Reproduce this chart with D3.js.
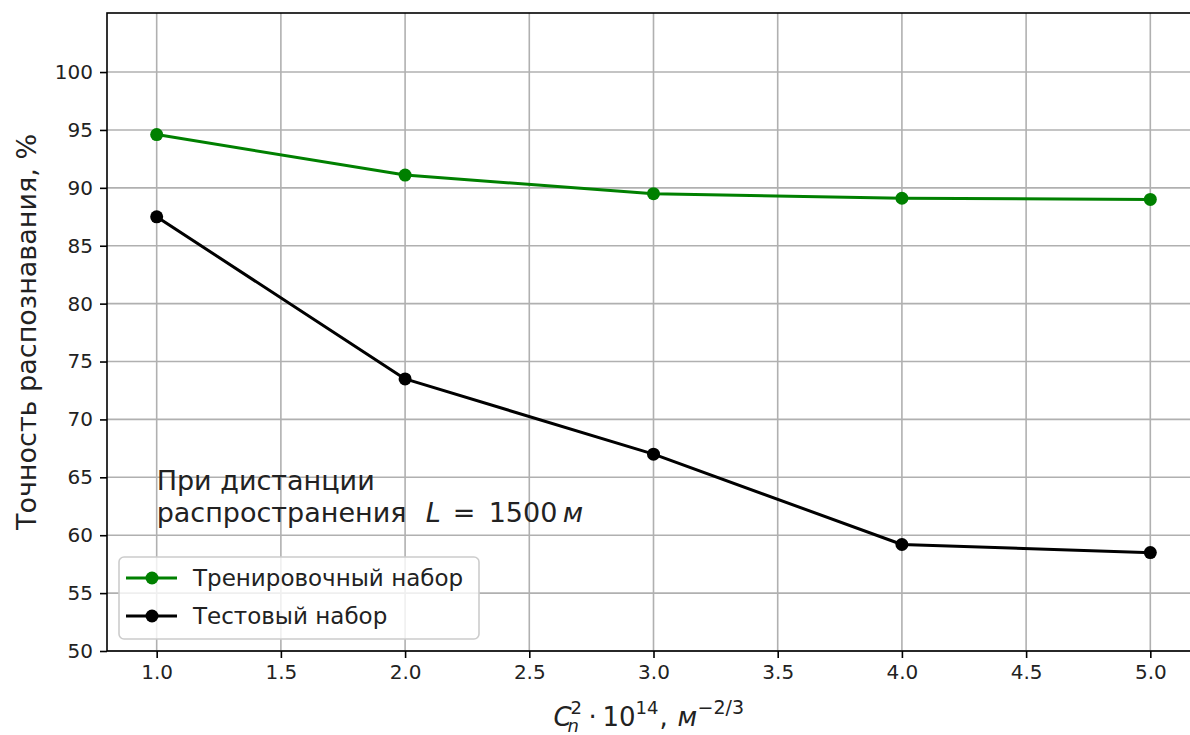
<!DOCTYPE html>
<html>
<head>
<meta charset="utf-8">
<script src="https://cdn.jsdelivr.net/npm/d3@7"></script>
<style>
  html, body { margin: 0; padding: 0; background: #fff; }
  svg { display: block; font-family: "DejaVu Sans", sans-serif; }
</style>
</head>
<body>
<svg id="chart" width="1190" height="735"></svg>
<script>
// ---- data ----
const xValues = [1.0, 2.0, 3.0, 4.0, 5.0];
const trainValues = [94.6, 91.1, 89.5, 89.1, 89.0];
const testValues = [87.5, 73.5, 67.0, 59.2, 58.5];
const xTickValues = [1.0, 1.5, 2.0, 2.5, 3.0, 3.5, 4.0, 4.5, 5.0];
const yTickValues = [50, 55, 60, 65, 70, 75, 80, 85, 90, 95, 100];
const seriesNames = ["Тренировочный набор", "Тестовый набор"];
const yLabel = "Точность распознавания, %";
const noteLine1 = "При дистанции";
const noteLine2 = "распространения";

(function () {
const svg = d3.select("#chart");
const pLeft = 107, pTop = 13, pRight = 1200, pBottom = 651;

const x = d3.scaleLinear().domain([0.8, 5.2]).range([pLeft, pRight]);
const y = d3.scaleLinear().domain([50, 105.1]).range([pBottom, pTop]);

const textColor = "#222";

// grid
const grid = svg.append("g");
grid.selectAll(".vg").data(xTickValues).join("line")
  .attr("x1", d => x(d)).attr("x2", d => x(d))
  .attr("y1", pTop).attr("y2", pBottom)
  .attr("stroke", "#b0b0b0").attr("stroke-width", 1.6);
grid.selectAll(".hg").data(yTickValues).join("line")
  .attr("x1", pLeft).attr("x2", pRight)
  .attr("y1", d => y(d)).attr("y2", d => y(d))
  .attr("stroke", "#b0b0b0").attr("stroke-width", 1.6);

// axes
const xAxis = d3.axisBottom(x).tickValues(xTickValues).tickFormat(d3.format(".1f"))
  .tickSize(7).tickPadding(7);
const yAxis = d3.axisLeft(y).tickValues(yTickValues).tickFormat(d3.format("d"))
  .tickSize(7).tickPadding(7);

const gx = svg.append("g").attr("transform", `translate(0,${pBottom})`).call(xAxis);
const gy = svg.append("g").attr("transform", `translate(${pLeft},0)`).call(yAxis);
[gx, gy].forEach(g => {
  g.select(".domain").remove();
  g.selectAll(".tick line").attr("stroke", "#000").attr("stroke-width", 1.6);
  g.selectAll(".tick text").attr("fill", textColor)
    .style("font-family", "DejaVu Sans").style("font-size", "20px");
});

// lines & markers
const line = d3.line().x((d, i) => x(xValues[i])).y(d => y(d));
const series = [
  { name: seriesNames[0], values: trainValues, color: "#008000" },
  { name: seriesNames[1], values: testValues, color: "#000000" }
];
series.forEach(s => {
  svg.append("path").datum(s.values)
    .attr("d", line).attr("fill", "none")
    .attr("stroke", s.color).attr("stroke-width", 3)
    .attr("stroke-linejoin", "round").attr("stroke-linecap", "square");
  svg.selectAll(null).data(s.values).join("circle")
    .attr("cx", (d, i) => x(xValues[i])).attr("cy", d => y(d))
    .attr("r", 6.5).attr("fill", s.color);
});

// spines
svg.append("rect").attr("x", pLeft).attr("y", pTop)
  .attr("width", pRight - pLeft).attr("height", pBottom - pTop)
  .attr("fill", "none").attr("stroke", "#000").attr("stroke-width", 1.6);

// annotation
const nx = x(1.0), ny = y(61.1);
const note = svg.append("text").attr("fill", textColor)
  .style("font-size", "27px");
note.append("tspan").attr("x", nx).attr("y", ny - 32).text(noteLine1);
note.append("tspan").attr("x", nx).attr("y", ny).text(noteLine2);
note.append("tspan").attr("x", nx + 269).attr("y", ny).attr("font-style", "italic").text("L");
note.append("tspan").attr("x", nx + 296).attr("y", ny).text("=");
note.append("tspan").attr("x", nx + 332).attr("y", ny).text("1500");
note.append("tspan").attr("x", nx + 406).attr("y", ny).attr("font-style", "italic").text("м");

// legend
const lg = svg.append("g");
lg.append("rect").attr("x", 119).attr("y", 557).attr("width", 360).attr("height", 82)
  .attr("rx", 5).attr("fill", "#fff").attr("fill-opacity", 0.8)
  .attr("stroke", "#cccccc").attr("stroke-width", 1.6);
series.forEach((s, i) => {
  const cy = 578 + i * 38;
  lg.append("line").attr("x1", 126).attr("x2", 177).attr("y1", cy).attr("y2", cy)
    .attr("stroke", s.color).attr("stroke-width", 3);
  lg.append("circle").attr("cx", 152).attr("cy", cy).attr("r", 6.5).attr("fill", s.color);
  lg.append("text").attr("x", 193).attr("y", cy).attr("dy", "0.36em")
    .attr("fill", textColor).style("font-size", "23px").text(s.name);
});

// y label
svg.append("text")
  .attr("transform", `translate(36,${(pTop + pBottom) / 2}) rotate(-90)`)
  .attr("text-anchor", "middle").attr("fill", textColor)
  .style("font-size", "27px").text(yLabel);

// x label (mathtext-like), pieces placed relative to axis centre
const cx = (pLeft + pRight) / 2, by = 726;
const xl = svg.append("text").attr("fill", textColor).style("font-size", "26px");
xl.append("tspan").attr("x", cx - 100).attr("y", by).attr("font-style", "italic").text("C");
xl.append("tspan").attr("x", cx - 83).attr("y", by - 12).style("font-size", "18px").text("2");
xl.append("tspan").attr("x", cx - 86).attr("y", by + 6).style("font-size", "18px").attr("font-style", "italic").text("n");
xl.append("tspan").attr("x", cx - 65).attr("y", by).text("·");
xl.append("tspan").attr("x", cx - 51).attr("y", by).text("10");
xl.append("tspan").attr("x", cx - 18).attr("y", by - 12).style("font-size", "18px").text("14");
xl.append("tspan").attr("x", cx + 6).attr("y", by).text(",");
xl.append("tspan").attr("x", cx + 24).attr("y", by).attr("font-style", "italic").text("м");
xl.append("tspan").attr("x", cx + 44).attr("y", by - 12).style("font-size", "19px").text("−2/3");
})();
</script>
</body>
</html>
